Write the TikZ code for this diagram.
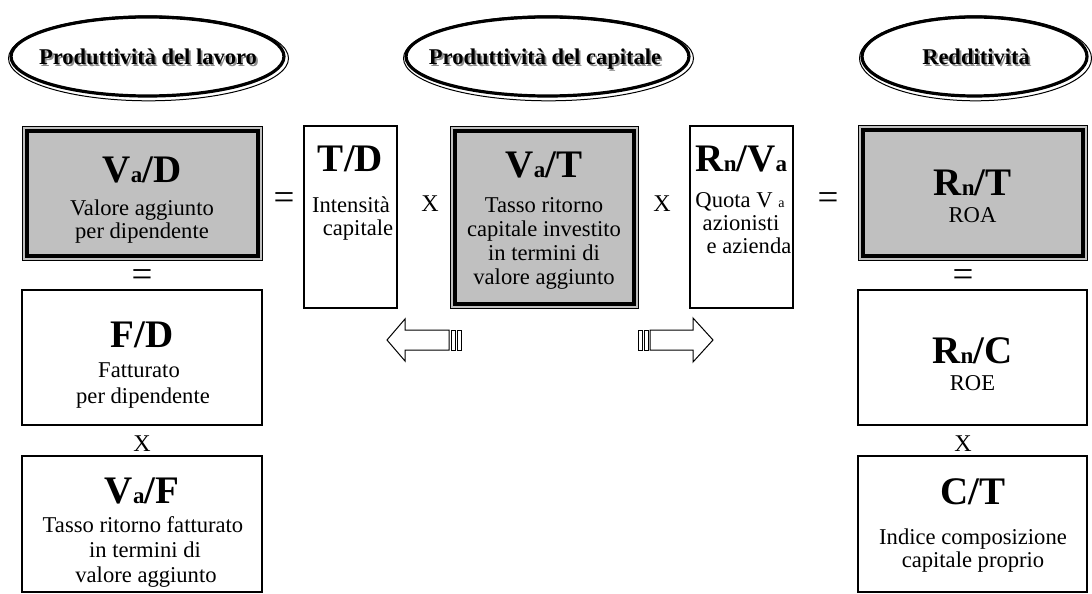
\documentclass[tikz,border=0pt]{standalone}
\usepackage{fontspec}
\setmainfont{Liberation Serif}
\definecolor{boxgray}{RGB}{192,192,192}
\definecolor{shadowgray}{RGB}{140,140,140}
\newcommand\subs[1]{{\fontsize{23}{23}\selectfont #1}}
\newcommand\tsubs[1]{{\fontsize{14}{14}\selectfont #1}}
\begin{document}
\begin{tikzpicture}[x=1pt,y=-1pt,
  box/.style={draw, line width=1.4pt, inner sep=0pt, outer sep=0pt, rectangle},
  gbox/.style={box, line width=1pt, fill=boxgray},
  inner/.style={line width=4pt},
  biglab/.style={font=\fontsize{39}{39}\selectfont\bfseries, anchor=base, inner sep=0pt},
  desc/.style={font=\fontsize{22.6}{22.6}\selectfont, anchor=base, inner sep=0pt},
  eqsign/.style={font=\fontsize{37}{37}\selectfont, anchor=base, inner sep=0pt},
  xsign/.style={font=\fontsize{24}{24}\selectfont, anchor=base, inner sep=0pt},
  head/.style={font=\fontsize{22.5}{22.5}\selectfont\bfseries, anchor=base, inner sep=0pt},
  headshadow/.style={head, text=shadowgray},
  ovalthick/.style={line width=3.2pt},
  ovalthin/.style={line width=1pt},
  blockarrow/.style={draw, line width=1pt, fill=white, line join=miter}
]
\useasboundingbox (0,0) rectangle (1092,594);

% ---------- header ovals ----------
\coordinate (e1) at (147.5,56.5);
\coordinate (e2) at (547.5,56.5);
\coordinate (e3) at (974.5,56.5);
\draw[ovalthin] ([shift={(1,1.8)}]e1) ellipse [x radius=140, y radius=42.5];
\draw[ovalthick] (e1) ellipse [x radius=136.5, y radius=39.5];
\draw[ovalthin] ([shift={(1,1.8)}]e2) ellipse [x radius=145, y radius=42.5];
\draw[ovalthick] (e2) ellipse [x radius=141.5, y radius=39.5];
\draw[ovalthin] ([shift={(1,1.8)}]e3) ellipse [x radius=116, y radius=42.5];
\draw[ovalthick] (e3) ellipse [x radius=112.5, y radius=39.5];
\node[headshadow] (h1s) at (149.8,66.8) {Produttività del lavoro};
\node[head] (h1) at (148,65) {Produttività del lavoro};
\node[headshadow] (h2s) at (546.8,66.8) {Produttività del capitale};
\node[head] (h2) at (545,65) {Produttività del capitale};
\node[headshadow] (h3s) at (977.8,66.8) {Redditività};
\node[head] (h3) at (976,65) {Redditività};

% ---------- left column ----------
\node[gbox, minimum width=240, minimum height=134] (vad) at (142,193) {};
\draw[inner] ([shift={(4.5,4.5)}]vad.north west) rectangle ([shift={(-4.5,-4.5)}]vad.south east);
\node[biglab] (vadL) at (142,182) {V\subs{a}/D};
\node[desc] (vad1) at (142,215) {Valore aggiunto};
\node[desc] (vad2) at (142,238) {per dipendente};

\node[eqsign] (eqA) at (142,286) {=};

\node[box, minimum width=240, minimum height=135] (fd) at (142,357.5) {};
\node[biglab] (fdL) at (142,347) {F/D};
\node[desc] (fd1) at (139,377) {Fatturato};
\node[desc] (fd2) at (143,403) {per dipendente};

\node[xsign] (xA) at (142,451) {X};

\node[box, minimum width=240, minimum height=136] (vaf) at (142,524) {};
\node[biglab] (vafL) at (142,503) {V\subs{a}/F};
\node[desc] (vaf1) at (143,532) {Tasso ritorno fatturato};
\node[desc] (vaf2) at (145,557) {in termini di};
\node[desc] (vaf3) at (146,582) {valore aggiunto};

% ---------- middle row ----------
\node[eqsign] (eqB) at (284,209) {=};

\node[box, minimum width=93, minimum height=182] (td) at (350.5,217) {};
\node[biglab] (tdL) at (350.5,171) {T/D};
\node[desc] (td1) at (351,212) {Intensità};
\node[desc] (td2) at (358,235) {capitale};

\node[xsign] (xB) at (430,211) {X};

\node[gbox, minimum width=188, minimum height=182] (vat) at (544,217) {};
\draw[inner] ([shift={(4.5,4.5)}]vat.north west) rectangle ([shift={(-4.5,-4.5)}]vat.south east);
\node[biglab] (vatL) at (544,177) {V\subs{a}/T};
\node[desc] (vat1) at (544,212) {Tasso ritorno};
\node[desc] (vat2) at (544,236) {capitale investito};
\node[desc] (vat3) at (544,260) {in termini di};
\node[desc] (vat4) at (544,284) {valore aggiunto};

\node[xsign] (xC) at (662,211) {X};

\node[box, minimum width=103, minimum height=182] (rnva) at (741.5,217) {};
\node[biglab] (rnvaL) at (741.5,171) {R\subs{n}/V\subs{a}};
\node[desc] (rnva1) at (740,207) {Quota V \tsubs{a}};
\node[desc] (rnva2) at (741,230) {azionisti};
\node[desc] (rnva3) at (749,253) {e azienda};

% ---------- block arrows ----------
\coordinate (la) at (387,340);
\draw[blockarrow] (la) -- ++(18,-21) -- ++(0,11) -- ++(44,0) -- ++(0,20) -- ++(-44,0) -- ++(0,11) -- cycle;
\draw[blockarrow] ([shift={(64,-10)}]la) rectangle ++(4.5,20);
\draw[blockarrow] ([shift={(70,-10)}]la) rectangle ++(4.5,20);

\coordinate (ra) at (713,340);
\draw[blockarrow] (ra) -- ++(-20,-22) -- ++(0,12) -- ++(-43,0) -- ++(0,20) -- ++(43,0) -- ++(0,12) -- cycle;
\draw[blockarrow] ([shift={(-69,-10)}]ra) rectangle ++(4.5,20);
\draw[blockarrow] ([shift={(-75,-10)}]ra) rectangle ++(4.5,20);

% ---------- right column ----------
\node[eqsign] (eqC) at (828,209) {=};

\node[gbox, minimum width=229, minimum height=135] (rnt) at (972.5,192.5) {};
\draw[inner] ([shift={(4.5,4.5)}]rnt.north west) rectangle ([shift={(-4.5,-4.5)}]rnt.south east);
\node[biglab] (rntL) at (972.5,195) {R\subs{n}/T};
\node[desc] (rnt1) at (972.5,222) {ROA};

\node[eqsign] (eqD) at (963,286) {=};

\node[box, minimum width=229, minimum height=135] (rnc) at (972.5,357.5) {};
\node[biglab] (rncL) at (972.5,363) {R\subs{n}/C};
\node[desc] (rnc1) at (972.5,390) {ROE};

\node[xsign] (xD) at (963,451) {X};

\node[box, minimum width=229, minimum height=136] (ct) at (972.5,524) {};
\node[biglab] (ctL) at (972.5,504) {C/T};
\node[desc] (ct1) at (973,544) {Indice composizione};
\node[desc] (ct2) at (973,567) {capitale proprio};
\end{tikzpicture}
\end{document}
